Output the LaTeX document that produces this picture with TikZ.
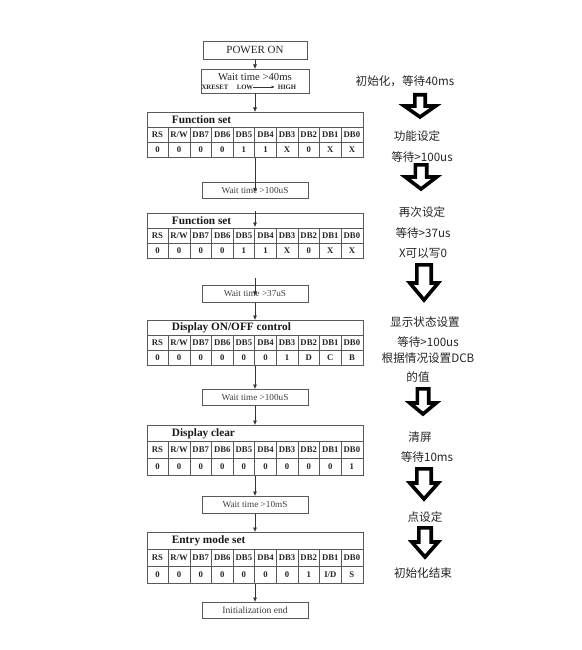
\documentclass[tikz,border=0pt]{standalone}
\usepackage{fontspec}
\setmainfont{Liberation Serif}
\newfontfamily\cjk{Noto Sans CJK SC}
\usetikzlibrary{arrows.meta,calc}

\newcommand\regtab[5]{% name, top, row height, title, values
  \node[lc, minimum width=216pt, minimum height=3*#3pt, anchor=north, inner sep=0pt] (#1) at (255,#2) {};
  \draw[lc] ($(#1.north west)+(0,#3)$) -- ++(216,0);
  \draw[lc] ($(#1.north west)+(0,2*#3)$) -- ++(216,0);
  \foreach \k in {1,...,9}
    \draw[lc] ($(#1.north west)+({21.6*\k},#3)$) -- ($(#1.south west)+({21.6*\k},0)$);
  \node[ttl] (#1t) at ($(#1.north west)+(25,{0.5*#3})$) {#4};
  \foreach \h [count=\i] in {RS,R/W,DB7,DB6,DB5,DB4,DB3,DB2,DB1,DB0}
    \node[hdr] (#1h\i) at ($(#1.north west)+({21.6*(\i-0.5)},{1.5*#3})$) {\h};
  \foreach \v [count=\i] in {#5}
    \node[hdr] (#1v\i) at ($(#1.north west)+({21.6*(\i-0.5)},{2.5*#3})$) {\v};
}
\newcommand\harr[6]{% cx, top, head base, tip, shaft half, head half
  \draw[harrow] ({#1-#5},#2) -- ({#1+#5},#2) -- ({#1+#5},#3) -- ({#1+#6},#3) -- (#1,#4) -- ({#1-#6},#3) -- ({#1-#5},#3) -- cycle;
}

\begin{document}
\begin{tikzpicture}[x=1pt,y=-1pt,
  lc/.style={draw=black!65, line width=0.6pt},
  wbox/.style={lc, fill=white, minimum width=106pt, inner sep=0pt, anchor=north, font=\fontsize{9.2}{10}\selectfont, text=black!75},
  conn/.style={black!80, line width=0.6pt, -{Latex[length=4.5pt,width=4pt]}},
  hdr/.style={font=\bfseries\fontsize{8.7}{9}\selectfont, inner sep=0pt, text=black!85},
  ttl/.style={font=\bfseries\fontsize{11.3}{12}\selectfont, inner sep=0pt, anchor=west, text=black!90},
  cn/.style={font=\cjk\fontsize{11.6}{13}\selectfont, inner sep=0pt, text=black!85},
  harrow/.style={draw=black, line width=3.6pt, fill=white, line join=miter}
]
\fill[white] (0,0) rectangle (581,650);

% left flow
\node[wbox, minimum height=18pt, minimum width=104pt, font=\fontsize{11}{12}\selectfont, text=black!85] (p) at (255,41) {POWER ON};
\node[wbox, minimum height=24pt, minimum width=108pt] (w1) at (255,69) {};
\node[inner sep=0pt, font=\fontsize{10.7}{12}\selectfont, text=black!85] (w1a) at (255,77) {Wait time >40ms};
\node[inner sep=0pt, font=\bfseries\fontsize{6.7}{8}\selectfont, text=black!85] (xr) at (215,87) {XRESET};
\node[inner sep=0pt, font=\bfseries\fontsize{6.7}{8}\selectfont, text=black!85] (low) at (245,87) {LOW};
\node[inner sep=0pt, font=\bfseries\fontsize{6.7}{8}\selectfont, text=black!85] (high) at (287,87) {HIGH};
\draw[black!80, line width=0.5pt, -{Latex[length=3pt,width=3pt]}] (low.east) -- ($(high.west)+(-3,0)$);

\regtab{t1}{112}{15}{Function set}{0,0,0,0,1,1,X,0,X,X}
\node[wbox, minimum height=16pt] (w2) at (255,182) {Wait time >100uS};
\regtab{t2}{213}{15}{Function set}{0,0,0,0,1,1,X,0,X,X}
\node[wbox, minimum height=17pt] (w3) at (255,285) {Wait time >37uS};
\regtab{t3}{320}{15}{Display ON/OFF control}{0,0,0,0,0,0,1,D,C,B}
\node[wbox, minimum height=16pt] (w4) at (255,389) {Wait time >100uS};
\regtab{t4}{425}{16.7}{Display clear}{0,0,0,0,0,0,0,0,0,1}
\node[wbox, minimum height=17pt] (w5) at (255,496) {Wait time >10mS};
\regtab{t5}{532}{17}{Entry mode set}{0,0,0,0,0,0,0,1,I/D,S}
\node[wbox, minimum height=16pt, font=\fontsize{9.6}{10}\selectfont] (e) at (255,602) {Initialization end};

% connectors
\draw[conn] (p.south) -- (w1.north);
\draw[conn] (w1.south) -- (t1.north);
\draw[conn] (t1.south) -- ($(w2.center)+(0,2)$);
\draw[conn] ($(t2.north)+(0,-2)$) -- ($(t2.north)+(0,14)$);
\draw[conn] ($(w3.north)+(0,-7)$) -- ($(w3.center)+(0,2)$);
\draw[conn] (w3.south) -- (t3.north);
\draw[conn] (t3.south) -- (w4.north);
\draw[conn] (w4.south) -- (t4.north);
\draw[conn] (t4.south) -- (w5.north);
\draw[conn] (w5.south) -- (t5.north);
\draw[conn] (t5.south) -- (e.north);

% right notes
\node[cn] (n1) at (405,81) {初始化，等待40ms};
\harr{420}{94.8}{106}{117}{5.2}{15.7}
\node[cn] (n2) at (417,136) {功能设定};
\node[cn] (n3) at (422,157) {等待>100us};
\harr{421}{164.8}{177}{189}{5.7}{15.7}
\node[cn] (n4) at (422,212) {再次设定};
\node[cn] (n5) at (423,233) {等待>37us};
\node[cn] (n6) at (423,253) {X可以写0};
\harr{424}{264.8}{283}{300}{7.2}{14.2}
\node[cn] (n7) at (425,322) {显示状态设置};
\node[cn] (n8) at (428,342) {等待>100us};
\node[cn] (n9) at (428,358) {根据情况设置DCB};
\node[cn] (n10) at (418,377) {的值};
\harr{423}{388.8}{403}{414}{5.7}{13.2}
\node[cn] (n11) at (420,437) {清屏};
\node[cn] (n12) at (427,457) {等待10ms};
\harr{424}{468.8}{483}{499}{7.2}{14.2}
\node[cn] (n13) at (425,517) {点设定};
\harr{425}{527.8}{542}{557}{6.2}{13.2}
\node[cn] (n14) at (423,573) {初始化结束};
\end{tikzpicture}
\end{document}
